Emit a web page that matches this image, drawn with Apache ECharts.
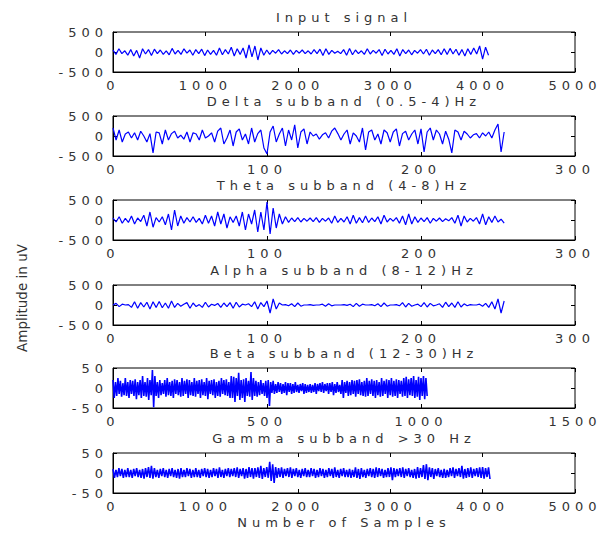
<!DOCTYPE html>
<html>
<head>
<meta charset="utf-8">
<script src="https://cdn.jsdelivr.net/npm/echarts@6/dist/echarts.min.js"></script>
<style>
html, body { margin: 0; padding: 0; background: #fff; }
.main { width: 609px; height: 533px; }
/* the old matlab figure has very wide lettering */
.main svg text[style*="13px"] { letter-spacing: 5px; }
</style>
</head>
<body>
<div class="main"></div>
<script>
let inputStep = 32;
let deltaStep = 2;
let thetaStep = 2;
let alphaStep = 2;
let betaStep = 4;
let gammaStep = 16;

let titles = ['Input signal', 'Delta subband (0.5-4)Hz', 'Theta subband (4-8)Hz',
    'Alpha subband (8-12)Hz', 'Beta subband (12-30)Hz', 'Gamma subband >30 Hz'];

let xMaxes = [5000, 300, 300, 300, 1500, 5000];
let xSteps = [1000, 100, 100, 100, 500, 1000];
let yMaxes = [500, 500, 500, 500, 50, 50];

let inputSignal = [
    50, -60, 80, -40, 30, -80, 60, -100, 40, -150, 80, -50, 60, -90, 70, -40,
    50, -60, 30, -70, 90, -50, 40, -60, 80, -30, 50, -80, 60, -40, 70, -90,
    50, -60, 40, -80, 100, -70, 60, -50, 120, -100, 80, -60, 100, -150, 180, -120,
    150, -200, 100, -80, 50, -60, 40, -30, 60, -50, 30, -40, 50, -60, 40, -30,
    50, -40, 30, -50, 60, -40, 70, -90, 80, -60, 40, -30, 20, -40, 60, -80,
    90, -70, 50, -40, 30, -60, 80, -50, 40, -30, 60, -90, 70, -50, 40, -60,
    80, -100, 60, -40, 50, -70, 40, -30, 60, -50, 70, -80, 50, -40, 60, -70,
    80, -60, 90, -50, 70, -80, 60, -100, 80, -60, 100, -50, 150, -180, 120, -80
];

let delta = [
    200, -100, 150, -150, 50, 100, -50, 80, -100, 120, 0, -150, 60, -420, 100, 80,
    -200, 150, -100, 60, 120, -50, 20, -80, 100, -150, 80, 50, -100, 150, -50, 0,
    80, -150, 120, 200, -200, -50, 150, -250, 100, 180, -100, 50, -200, 200, -150, 60,
    150, -300, -450, 100, 250, -150, 50, 200, -250, 150, -100, 280, -300, 100, 180, -200,
    100, 0, 50, -80, 30, 80, -50, 120, 200, 60, -100, 50, 150, -200, 80, 0,
    -150, 200, -350, 100, 150, -100, 50, -200, 150, 80, -150, 100, 180, -250, 60, 120,
    -100, 50, 150, -200, 180, -400, 100, 200, -100, 150, 50, -200, 120, -80, -420, 150,
    100, -100, 120, 50, -50, 30, 60, -50, 80, 0, 100, -50, 150, 300, -400, 100
];

let theta = [
    50, -50, 80, -80, 40, -60, 100, -100, 50, -40, 120, -150, 200, -180, 60, -50,
    80, -120, 150, -250, 250, -150, 100, -80, 60, -50, 80, -60, 40, -100, 120, -80,
    100, -150, 200, -100, 150, -200, 80, -60, 100, -150, 200, -250, 150, -100, 250, -300,
    200, -250, 450, -350, 300, -200, 150, -100, 80, -60, 50, -40, 60, -50, 40, -30,
    50, -40, 60, -60, 40, -30, 50, -80, 100, -60, 40, -50, 80, -100, 120, -80,
    60, -70, 100, -60, 50, -40, 80, -100, 120, -50, 40, -30, 60, -80, 100, -120,
    150, -100, 80, -60, 50, -40, 60, -80, 40, -30, 50, -40, 30, -20, 60, -80,
    120, -150, 100, -50, 40, -30, 60, -100, 150, -120, 80, -60, 100, -50, 20, -80
];

let alpha = [
    0, 40, -40, 20, 0, 10, -60, 80, -80, 60, -50, 70, -100, 80, -60, 90,
    -70, 50, -80, 100, -60, 40, -30, 20, 60, -80, 50, -40, 10, -60, 70, -50,
    20, -10, 40, -60, 50, -40, 60, -80, 70, -50, 20, 0, 30, -40, 80, -100,
    60, -40, 100, -200, 150, -100, 50, 0, 10, -20, 30, -40, 50, -30, 0, 0,
    10, -10, 0, 0, 20, -30, 30, -20, 0, 0, 0, 10, -10, 20, -40, 40,
    -30, 20, 0, 0, 10, -20, 30, -40, 50, -30, 0, 0, 10, -20, 60, -50,
    40, -30, 0, 20, -40, 60, -50, 40, -20, 0, 30, -60, 70, -40, 50, -60,
    80, -50, 30, -20, 10, 0, 0, 20, -30, 40, -60, 80, -100, 150, -200, 100
];

let beta = [
    20, -25, 15, -20, 25, -15, 18, -22, 12, -18, 25, -20, 15, -25, 20, -15,
    18, -20, 22, -28, 15, -18, 20, -25, 30, -20, 15, -22, 25, -30, 20, -18,
    45, -48, 30, -20, 15, -25, 20, -18, 12, -15, 20, -22, 25, -18, 15, -20,
    18, -25, 22, -15, 20, -18, 15, -22, 25, -20, 18, -15, 22, -25, 20, -18,
    15, -20, 25, -22, 18, -15, 20, -25, 22, -18, 15, -20, 25, -28, 18, -15,
    20, -18, 22, -25, 15, -20, 18, -22, 25, -15, 20, -18, 22, -20, 15, -25,
    30, -25, 28, -35, 25, -20, 38, -30, 20, -25, 22, -35, 25, -20, 18, -22,
    40, -30, 25, -20, 18, -22, 15, -18, 20, -15, 12, -20, 18, -25, 20, -45,
    15, -12, 18, -15, 10, -12, 15, -10, 12, -15, 10, -12, 15, -18, 12, -10,
    12, -15, 10, -12, 15, -10, 8, -12, 10, -8, 12, -15, 10, -12, 8, -10,
    10, -12, 8, -10, 12, -15, 10, -8, 12, -10, 15, -12, 10, -8, 12, -15,
    12, -10, 15, -18, 10, -12, 15, -10, 8, -15, 20, -25, 15, -12, 18, -20,
    15, -18, 20, -15, 18, -22, 20, -15, 22, -18, 15, -20, 18, -22, 25, -20,
    18, -15, 22, -20, 18, -25, 20, -18, 15, -22, 25, -20, 18, -15, 22, -25,
    20, -18, 25, -22, 18, -20, 22, -25, 20, -15, 18, -22, 25, -20, 28, -25,
    22, -18, 25, -20, 30, -25, 20, -22, 28, -30, 25, -20, 30, -28, 25, -20
];

let gamma = [
    10, -12, 8, -10, 12, -8, 10, -12, 8, -10, 12, -10, 8, -12, 10, -8,
    12, -10, 8, -12, 10, -14, 12, -10, 15, -12, 18, -14, 12, -10, 8, -12,
    10, -8, 12, -10, 8, -12, 10, -8, 12, -10, 8, -12, 10, -14, 12, -10,
    8, -10, 12, -8, 10, -12, 8, -10, 12, -10, 8, -12, 10, -8, 12, -10,
    10, -12, 8, -10, 12, -8, 10, -12, 14, -10, 8, -12, 10, -8, 12, -10,
    10, -8, 12, -10, 14, -12, 10, -8, 12, -14, 10, -12, 15, -10, 12, -14,
    12, -10, 14, -12, 18, -15, 12, -10, 15, -12, 28, -20, 22, -25, 15, -12,
    12, -10, 14, -12, 10, -8, 12, -10, 14, -12, 10, -8, 12, -10, 8, -12,
    10, -8, 12, -10, 8, -10, 12, -8, 10, -12, 8, -10, 12, -8, 10, -12,
    8, -10, 12, -8, 10, -12, 14, -10, 8, -12, 10, -8, 12, -10, 8, -10,
    10, -12, 8, -10, 14, -12, 10, -15, 12, -10, 8, -12, 10, -8, 12, -10,
    10, -12, 14, -10, 12, -8, 10, -12, 8, -10, 12, -10, 14, -18, 12, -10,
    10, -8, 12, -10, 14, -12, 10, -8, 12, -10, 8, -12, 10, -14, 15, -12,
    12, -10, 20, -15, 22, -18, 14, -10, 12, -15, 10, -8, 12, -10, 8, -12,
    10, -12, 8, -10, 12, -8, 14, -12, 10, -8, 12, -10, 18, -14, 10, -12,
    12, -10, 14, -12, 10, -8, 12, -10, 14, -12, 15, -14, 12, -10, 14, -15
];

let signals = [
    [inputSignal, inputStep],
    [delta, deltaStep],
    [theta, thetaStep],
    [alpha, alphaStep],
    [beta, betaStep],
    [gamma, gammaStep]
];

let chartDom = document.querySelector('.main');
let myChart = echarts.init(chartDom, null, { renderer: 'svg' });

let font = 'DejaVu Sans';
let textColor = '#333';
let boxLeft = 113;
let boxWidth = 462;
let boxHeight = 40;
let boxTops = [32, 116, 200, 285, 368, 453];
let lineWidths = [1.2, 1.2, 1.2, 1.2, 1.6, 1.6];

let grid = [];
let xAxis = [];
let yAxis = [];
let series = [];
let title = [];

let tickStyle = { inside: true, length: 4, lineStyle: { color: '#000' } };
let labelStyle = { fontFamily: font, fontSize: 13, lineHeight: 15, color: textColor };

boxTops.forEach((top, i) => {
    grid.push({
        left: boxLeft, top: top, width: boxWidth, height: boxHeight,
        show: true, borderColor: '#000', borderWidth: 1,
        outerBoundsMode: 'none'
    });

    title.push({
        text: titles[i],
        left: boxLeft + boxWidth / 2,
        top: top - 22,
        textAlign: 'center',
        padding: 0,
        textStyle: Object.assign({ fontWeight: 'normal' }, labelStyle)
    });

    // bottom / left axes with labels
    xAxis.push({
        gridIndex: i, type: 'value', min: 0, max: xMaxes[i], interval: xSteps[i],
        axisLine: { show: true, onZero: false, lineStyle: { color: '#000' } },
        axisTick: tickStyle,
        axisLabel: Object.assign({ margin: 5.5, formatter: v => String(v) }, labelStyle),
        splitLine: { show: false },
        name: i === 5 ? 'Number of Samples' : '',
        nameLocation: 'middle',
        nameGap: 21.5,
        nameTextStyle: labelStyle
    });
    yAxis.push({
        gridIndex: i, type: 'value', min: -yMaxes[i], max: yMaxes[i], interval: yMaxes[i],
        axisLine: { show: true, onZero: false, lineStyle: { color: '#000' } },
        axisTick: tickStyle,
        axisLabel: Object.assign({ margin: 5, formatter: v => String(v) }, labelStyle),
        splitLine: { show: false }
    });

    // matlab box: ticks on top and right too
    xAxis.push({
        gridIndex: i, type: 'value', position: 'top', min: 0, max: xMaxes[i], interval: xSteps[i],
        axisLine: { show: false, onZero: false },
        axisTick: tickStyle,
        axisLabel: { show: false },
        splitLine: { show: false }
    });
    yAxis.push({
        gridIndex: i, type: 'value', position: 'right', min: -yMaxes[i], max: yMaxes[i], interval: yMaxes[i],
        axisLine: { show: false, onZero: false },
        axisTick: tickStyle,
        axisLabel: { show: false },
        splitLine: { show: false }
    });

    let values = signals[i][0];
    let step = signals[i][1];
    series.push({
        type: 'line',
        xAxisIndex: i * 2,
        yAxisIndex: i * 2,
        data: values.map((v, k) => [k * step, v]),
        showSymbol: false,
        silent: true,
        lineStyle: { color: '#0000ff', width: lineWidths[i] }
    });
});

let option = {
    backgroundColor: '#fff',
    animation: false,
    title: title,
    grid: grid,
    xAxis: xAxis,
    yAxis: yAxis,
    series: series,
    graphic: [{
        type: 'text',
        x: 22,
        y: 298,
        rotation: Math.PI / 2,
        style: {
            text: 'Amplitude in uV',
            fontFamily: font,
            fontSize: 13.5,
            fill: textColor,
            textAlign: 'center',
            textVerticalAlign: 'middle',
            align: 'center',
            verticalAlign: 'middle'
        }
    }]
};

option && myChart.setOption(option);
</script>
</body>
</html>
